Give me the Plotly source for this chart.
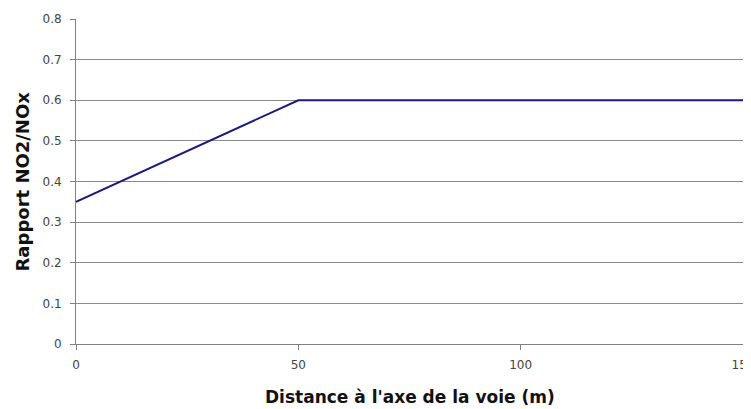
import plotly.graph_objects as go

distance_m = [0, 50, 150]
ratio_no2_nox = [0.35, 0.6, 0.6]
y_ticks = [0, 0.1, 0.2, 0.3, 0.4, 0.5, 0.6, 0.7, 0.8]
y_tick_labels = ["0", "0.1", "0.2", "0.3", "0.4", "0.5", "0.6", "0.7", "0.8"]
x_ticks = [0, 50, 100, 150]
x_title = "Distance à l'axe de la voie (m)"
y_title = "Rapport NO2/NOx"

fig = go.Figure()
fig.add_trace(go.Scatter(
    x=distance_m, y=ratio_no2_nox, mode="lines",
    line=dict(color="#1a1a78", width=2),
    showlegend=False, hoverinfo="skip",
))

# page body has an 8px default margin, so the figure is sized/offset to compensate
fig.update_layout(
    width=743, height=401,
    margin=dict(l=68, r=8, t=11, b=65),
    paper_bgcolor="white", plot_bgcolor="white",
    font=dict(family="DejaVu Sans", color="#444444", size=12),
)
fig.update_xaxes(
    range=[0, 150], tickvals=x_ticks, ticktext=[str(v) for v in x_ticks],
    showgrid=False, zeroline=False, automargin=False,
    showline=True, linecolor="#808080", linewidth=1,
    ticks="outside", ticklen=5, tickcolor="#808080",
    ticklabelstandoff=5, ticklabeloverflow="allow",
    tickfont=dict(size=12, color="#444444", family="DejaVu Sans"),
)
fig.update_yaxes(
    range=[0, 0.8], tickvals=y_ticks, ticktext=y_tick_labels,
    showgrid=True, gridcolor="#8a8a8a", gridwidth=1,
    zeroline=False, automargin=False,
    showline=True, linecolor="#808080", linewidth=1,
    ticks="outside", ticklen=5, tickcolor="#808080",
    ticklabelstandoff=6,
    tickfont=dict(size=12, color="#444444", family="DejaVu Sans"),
)
fig.add_annotation(
    text="<b>" + x_title + "</b>", xref="paper", yref="paper",
    x=0.5, y=0, xanchor="center", yanchor="middle", yshift=-53, showarrow=False,
    font=dict(size=17, color="#111111", family="DejaVu Sans"),
)
fig.add_annotation(
    text="<b>" + y_title + "</b>", xref="paper", yref="paper",
    x=0, y=0.5, xanchor="center", yanchor="middle", xshift=-54, textangle=-90,
    showarrow=False,
    font=dict(size=18, color="#111111", family="DejaVu Sans"),
)

fig.write_html("out.html")
